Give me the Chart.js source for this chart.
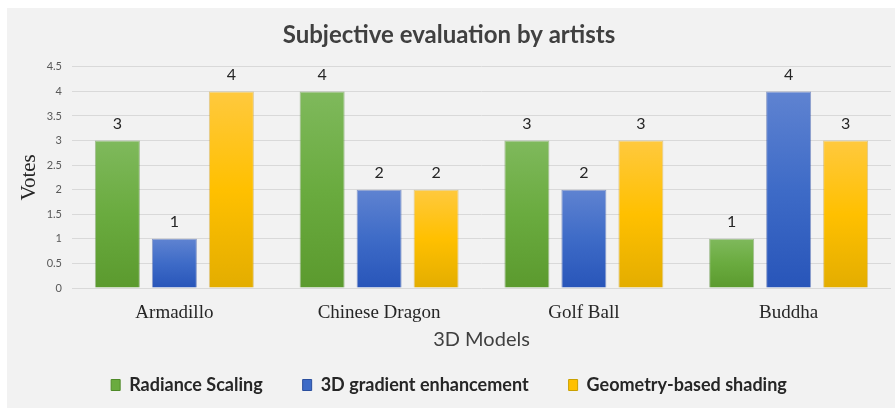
<!DOCTYPE html>
<html>
<head>
<meta charset="utf-8">
<script src="https://cdn.jsdelivr.net/npm/chart.js@4.4.1/dist/chart.umd.min.js"></script>
<style>
  html, body { margin: 0; padding: 0; background: #ffffff; }
  #wrap { position: absolute; left: 7px; top: 8px; width: 888px; height: 400px; background: #f2f2f2; }
</style>
</head>
<body>
<div id="wrap"><canvas id="chart" width="888" height="400"></canvas></div>
<script>
// data
const models = ['Armadillo', 'Chinese Dragon', 'Golf Ball', 'Buddha'];
const radianceScaling = [3, 4, 3, 1];
const gradientEnhancement = [1, 2, 2, 4];
const geometryShading = [4, 2, 3, 3];
const yTicks = [0, 0.5, 1, 1.5, 2, 2.5, 3, 3.5, 4, 4.5];

// top / middle / bottom colours of each bar gradient
const palettes = {
    green: ['#7fb95c', '#6aab3f', '#5b9a2e'],
    blue: ['#5f83d1', '#3e6bc7', '#2855b9'],
    yellow: ['#ffc93e', '#ffc000', '#e3ad00']
};

function barFill(colors) {
    return (ctx) => {
        const chart = ctx.chart;
        const y = chart.scales.y;
        if (!chart.chartArea || !y || ctx.parsed === undefined) return colors[1];
        const top = y.getPixelForValue(ctx.parsed.y);
        const bottom = y.getPixelForValue(0);
        if (!isFinite(top) || !isFinite(bottom) || top === bottom) return colors[1];
        const g = chart.ctx.createLinearGradient(0, top, 0, bottom);
        g.addColorStop(0, colors[0]);
        g.addColorStop(0.5, colors[1]);
        g.addColorStop(1, colors[2]);
        return g;
    };
}

// value labels above each bar
const valueLabels = {
    id: 'valueLabels',
    afterDatasetsDraw(chart) {
        const ctx = chart.ctx;
        ctx.save();
        ctx.fillStyle = '#262626';
        ctx.font = '16px Lato';
        ctx.textAlign = 'center';
        ctx.textBaseline = 'middle';
        chart.data.datasets.forEach((ds, i) => {
            chart.getDatasetMeta(i).data.forEach((bar, j) => {
                ctx.fillText(String(ds.data[j]), bar.x, bar.y - 17);
            });
        });
        ctx.restore();
    }
};

new Chart(document.getElementById('chart'), {
    type: 'bar',
    data: {
        labels: models,
        datasets: [
            { label: 'Radiance Scaling', data: radianceScaling, backgroundColor: barFill(palettes.green), borderColor: 'rgba(80,135,45,0.5)' },
            { label: '3D gradient enhancement', data: gradientEnhancement, backgroundColor: barFill(palettes.blue), borderColor: 'rgba(35,70,160,0.5)' },
            { label: 'Geometry-based shading', data: geometryShading, backgroundColor: barFill(palettes.yellow), borderColor: 'rgba(200,150,20,0.45)' }
        ]
    },
    options: {
        responsive: false,
        animation: false,
        layout: { padding: { left: 0, right: 4, top: 0, bottom: 4 } },
        datasets: {
            bar: { categoryPercentage: 0.835, barPercentage: 0.79, borderWidth: 1 }
        },
        plugins: {
            title: {
                display: true,
                text: 'Subjective evaluation by artists',
                color: '#404040',
                font: { family: 'Lato', size: 24, weight: 'bold' },
                padding: { top: 13, bottom: 17 }
            },
            legend: {
                position: 'bottom',
                labels: {
                    color: '#262626',
                    font: { family: 'Lato', size: 18, weight: 'bold' },
                    boxWidth: 9,
                    boxHeight: 11,
                    padding: 40,
                    generateLabels(chart) {
                        const fills = [palettes.green[1], palettes.blue[1], palettes.yellow[1]];
                        const edges = ['#4f8a28', '#2a4f9e', '#c9a000'];
                        return chart.data.datasets.map((ds, i) => ({
                            text: ds.label,
                            fillStyle: fills[i],
                            strokeStyle: edges[i],
                            lineWidth: 1,
                            fontColor: '#262626',
                            datasetIndex: i
                        }));
                    }
                }
            },
            tooltip: { enabled: false }
        },
        scales: {
            x: {
                grid: { display: false, drawTicks: false },
                border: { display: false },
                ticks: { color: '#262626', padding: 14, font: { family: 'Liberation Serif', size: 19 } },
                title: {
                    display: true,
                    text: '3D Models',
                    color: '#404040',
                    font: { family: 'Lato', size: 20 },
                    // the title sits over the legend's top padding
                    padding: { top: 0, bottom: -16 }
                },
                afterFit(scale) { scale.height = 48; }
            },
            y: {
                min: 0,
                max: 4.5,
                afterBuildTicks(scale) { scale.ticks = yTicks.map(v => ({ value: v })); },
                grid: { color: '#d9d9d9', lineWidth: 1, drawTicks: false },
                border: { display: false },
                ticks: {
                    color: '#595959',
                    padding: 10,
                    font: { family: 'Lato', size: 11 },
                    callback: (v) => String(v)
                },
                title: {
                    display: true,
                    text: 'Votes',
                    color: '#262626',
                    font: { family: 'Liberation Serif', size: 21 },
                    padding: { top: 10, bottom: 0 }
                },
                afterFit(scale) { scale.width = 65; }
            }
        }
    },
    plugins: [valueLabels]
});
</script>
</body>
</html>
